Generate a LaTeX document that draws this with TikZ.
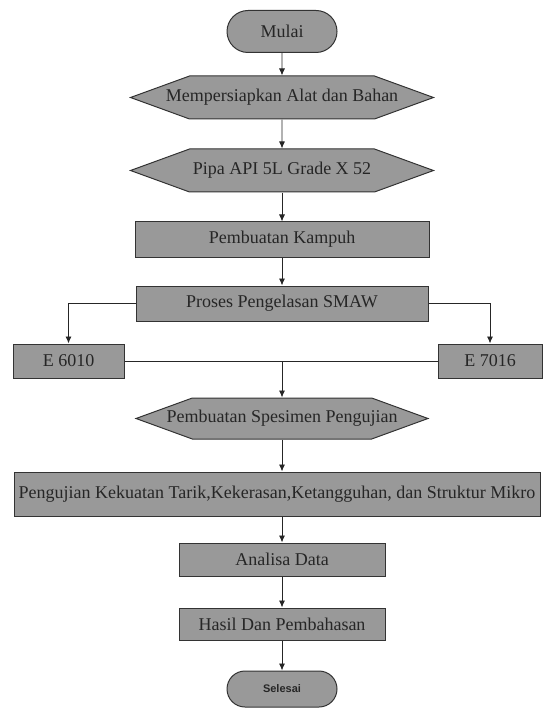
\documentclass[tikz,border=0pt]{standalone}
\usepackage{fontspec}
\setmainfont{Liberation Serif}
\newfontfamily\sansfnt{Liberation Sans}
\usepackage{tikz}
\usetikzlibrary{arrows.meta,calc,shapes.misc,shapes.symbols}

\begin{document}
\begin{tikzpicture}[x=1pt,y=-1pt,
    box/.style={draw=black!80,fill=black!40,line width=1pt,inner sep=0pt,
      font=\fontsize{18}{20}\selectfont,text=black!85},
    rbox/.style={box,rectangle},
    hexa/.style={box,signal,signal to=west and east,signal pointer angle=40,inner xsep=-30pt},
    term/.style={box,rounded rectangle,minimum width=110pt},
    arr/.style={draw=black!85,line width=0.9pt,-{Latex[length=7pt,width=6pt]}},
    ln/.style={draw=black!85,line width=0.9pt}]
            \useasboundingbox (0,0) rectangle (544,708);
            % nodes
            \node[term,minimum height=42pt] (mulai) at (282,31.5) {Mulai};
            \node[hexa,minimum width=303pt,minimum height=43pt] (alat) at (282,97.5) {Mempersiapkan Alat dan Bahan};
            \node[hexa,minimum width=303pt,minimum height=43pt] (pipa) at (282,170.5) {Pipa API 5L Grade X 52};
            \node[rbox,minimum width=294pt,minimum height=35pt] (kampuh) at (282,239.5) {Pembuatan Kampuh};
            \node[rbox,minimum width=292pt,minimum height=35pt] (smaw) at (282,303.5) {Proses Pengelasan SMAW};
            \node[rbox,minimum width=111pt,minimum height=34pt] (e60) at (68.5,361) {E 6010};
            \node[rbox,minimum width=104pt,minimum height=34pt] (e70) at (490,361) {E 7016};
            \node[hexa,minimum width=292pt,minimum height=41pt] (spes) at (282,418.5) {Pembuatan Spesimen Pengujian};
            \node[rbox,minimum width=526pt,minimum height=44pt] (uji) at (277,494) {Pengujian Kekuatan Tarik,Kekerasan,Ketangguhan, dan Struktur Mikro};
            \node[rbox,minimum width=206pt,minimum height=33pt] (analisa) at (282,559.5) {Analisa Data};
            \node[rbox,minimum width=206pt,minimum height=32pt] (hasil) at (282,624) {Hasil Dan Pembahasan};
            \node[term,minimum height=36pt,font=\sansfnt\bfseries\fontsize{11}{13}\selectfont] (selesai) at (282,689) {Selesai};
            \coordinate (gabung) at (282,361);
            % connectors
            \draw[arr] (mulai) -- (alat);
            \draw[arr] (alat) -- (pipa);
            \draw[arr] (pipa) -- (kampuh);
            \draw[arr] (kampuh) -- (smaw);
            \draw[arr] (smaw.west) -| (e60.north);
            \draw[arr] (smaw.east) -| (e70.north);
            \draw[ln] (e60.east) -- (e70.west);
            \draw[arr] (gabung) -- (spes.north);
            \draw[arr] (spes.south) -- (spes.south |- uji.north);
            \draw[arr] (analisa.north |- uji.south) -- (analisa.north);
            \draw[arr] (analisa) -- (hasil);
            \draw[arr] (hasil) -- (selesai);
          \end{tikzpicture}
\end{document}
